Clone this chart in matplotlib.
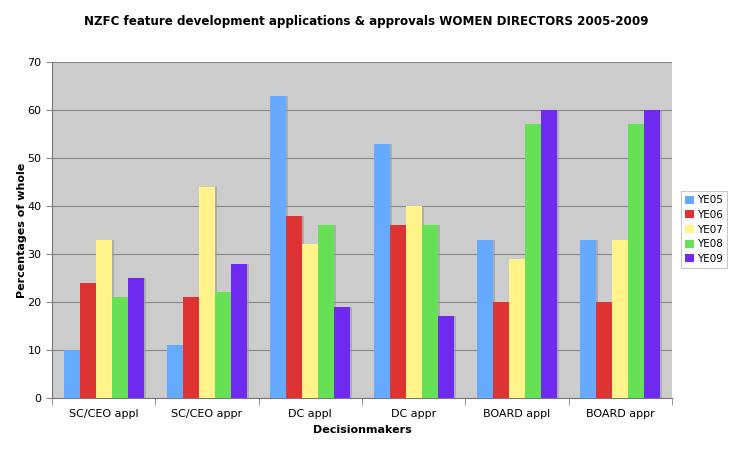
import matplotlib
matplotlib.use("Agg")
import matplotlib.pyplot as plt
import numpy as np

categories = ["SC/CEO appl", "SC/CEO appr", "DC appl", "DC appr", "BOARD appl", "BOARD appr"]
series_names = ["YE05", "YE06", "YE07", "YE08", "YE09"]
ye05 = [10, 11, 63, 53, 33, 33]
ye06 = [24, 21, 38, 36, 20, 20]
ye07 = [33, 44, 32, 40, 29, 33]
ye08 = [21, 22, 36, 36, 57, 57]
ye09 = [25, 28, 19, 17, 60, 60]
colors = ["#66aaff", "#dd3333", "#fff38a", "#66e055", "#6f2af0"]
yticks = [0, 10, 20, 30, 40, 50, 60, 70]

plt.rcParams['font.family'] = ['Verdana', 'DejaVu Sans']
fig = plt.figure(figsize=(7.32, 4.5), dpi=100)
ax = fig.add_axes([52/732, 1-398/450, 620/732, 336/450])
ax.set_facecolor("#cccccc")

data = [ye05, ye06, ye07, ye08, ye09]
x = np.arange(len(categories))
bw = 0.155
n = len(data)
for i, (vals, c, name) in enumerate(zip(data, colors, series_names)):
    pos = x + (i - (n - 1) / 2) * bw
    ax.bar(pos + 0.02, vals, width=bw, color="#999999", alpha=0.6, zorder=2, linewidth=0)
    ax.bar(pos, vals, width=bw, color=c, label=name, zorder=3, linewidth=0)

ax.set_xlim(-0.5, len(categories) - 0.5)
ax.set_ylim(0, 70)
ax.set_yticks(yticks)
ax.yaxis.grid(True, color="#888888", linewidth=0.8, zorder=1)
ax.set_axisbelow(True)
ax.set_xticks(x)
ax.set_xticklabels(categories, fontsize=8)
ax.set_xticks(np.arange(len(categories) + 1) - 0.5, minor=True)
ax.tick_params(axis='x', which='major', length=0, pad=8)
ax.tick_params(axis='x', which='minor', length=5, color="#888888")
ax.tick_params(axis='y', labelsize=8, length=4, color="#888888")
for side in ["top", "right"]:
    ax.spines[side].set_visible(False)
ax.spines["left"].set_color("#777777")
ax.spines["bottom"].set_color("#777777")

ax.set_xlabel("Decisionmakers", fontsize=8, fontweight="bold", labelpad=4)
ax.set_ylabel("Percentages of whole", fontsize=8, fontweight="bold", labelpad=0)
fig.text(0.5, 1-22/450, "NZFC feature development applications & approvals WOMEN DIRECTORS 2005-2009",
         ha="center", va="center", fontsize=8.6, fontweight="bold")

leg = fig.legend(loc="upper left", bbox_to_anchor=(681/732, 1-191/450), fontsize=7.5,
                 frameon=True, fancybox=False, handlelength=0.8, handleheight=0.8,
                 handletextpad=0.3, borderpad=0.4, labelspacing=0.45, borderaxespad=0)
leg.get_frame().set_edgecolor("#bbbbbb")
leg.get_frame().set_linewidth(0.8)

fig.savefig("out.png", dpi=100)
